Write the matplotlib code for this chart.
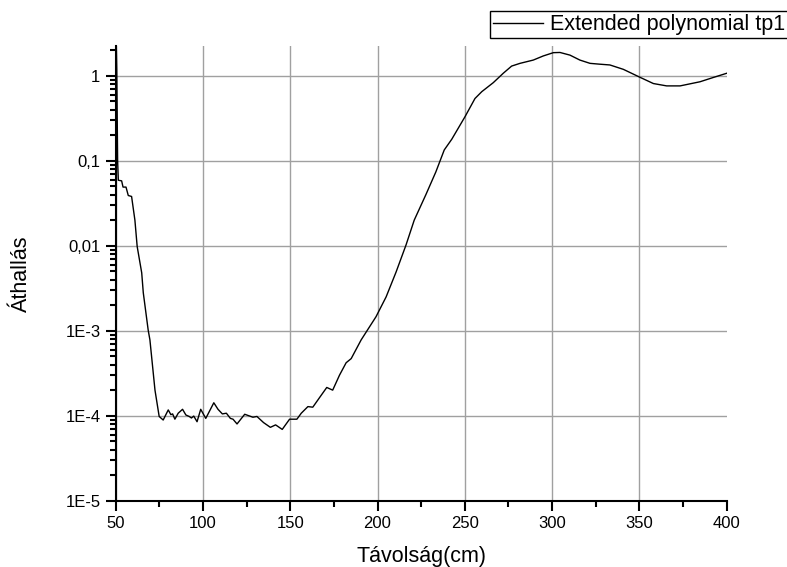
import matplotlib
matplotlib.use("Agg")
import matplotlib.pyplot as plt
from matplotlib.ticker import FixedLocator, FixedFormatter, MultipleLocator, LogLocator, NullFormatter

plt.rcParams['font.family'] = ['Liberation Sans', 'DejaVu Sans']

# Data
distance = [50.0, 50.3, 50.6, 51.1, 51.5, 53.4, 54.2, 55.9, 57.2, 59.1, 61.0, 62.3, 64.9, 65.8,
            68.6, 69.6, 72.5, 74.9, 77.2, 80.1, 81.6, 82.6, 83.9, 85.8, 88.3, 90.2, 92.1,
            93.4, 94.7, 96.6, 98.7, 101.6, 106.2, 108.6, 111.1, 113.4, 115.7, 117.2, 119.5,
            123.9, 128.6, 130.9, 134.7, 138.6, 141.6, 145.4, 149.6, 153.8, 156.3, 160.1,
            162.9, 167.1, 170.9, 174.3, 178.2, 182.0, 184.9, 190.6, 199.1, 204.9, 210.6,
            216.3, 221.0, 227.7, 233.4, 238.2, 242.5, 250.1, 255.8, 259.7, 266.3, 272.0,
            276.8, 281.6, 289.2, 294.9, 300.7, 304.5, 310.2, 315.9, 321.7, 327.0, 333.1,
            340.8, 350.3, 358.0, 365.6, 373.3, 384.7, 392.0, 400.0]
transmission = [3.0, 2.5, 1.2, 0.1, 0.059, 0.058, 0.049, 0.049, 0.039, 0.038, 0.020, 0.0098,
                0.0048, 0.0028, 0.00102, 7.8e-4, 2.0e-4, 9.8e-5, 8.9e-5, 1.17e-4, 1.03e-4,
                1.05e-4, 9.1e-5, 1.07e-4, 1.19e-4, 1.02e-4, 9.8e-5, 9.4e-5, 9.9e-5, 8.5e-5,
                1.19e-4, 9.3e-5, 1.42e-4, 1.19e-4, 1.05e-4, 1.07e-4, 9.3e-5, 9.1e-5, 8.0e-5,
                1.04e-4, 9.6e-5, 9.8e-5, 8.3e-5, 7.3e-5, 7.8e-5, 6.9e-5, 9.1e-5, 9.1e-5,
                1.07e-4, 1.28e-4, 1.26e-4, 1.67e-4, 2.15e-4, 2.0e-4, 3.0e-4, 4.2e-4, 4.7e-4,
                7.8e-4, 1.46e-3, 2.5e-3, 4.9e-3, 0.0102, 0.020, 0.040, 0.074, 0.134, 0.179,
                0.33, 0.54, 0.65, 0.83, 1.07, 1.30, 1.40, 1.53, 1.71, 1.87, 1.88, 1.75, 1.53,
                1.40, 1.37, 1.34, 1.19, 0.96, 0.81, 0.76, 0.76, 0.85, 0.95, 1.07]

x_ticks = [50, 100, 150, 200, 250, 300, 350, 400]
x_tick_labels = ['50', '100', '150', '200', '250', '300', '350', '400']
y_ticks = [1e-5, 1e-4, 1e-3, 1e-2, 1e-1, 1]
y_tick_labels = ['1E-5', '1E-4', '1E-3', '0,01', '0,1', '1']
series_label = 'Extended polynomial tp1'
x_label = 'Távolság(cm)'
y_label = 'Áthallás'

fig = plt.figure(figsize=(7.87, 5.67), dpi=100)
ax = fig.add_axes([115.7/787, 1 - 500.7/567, (726.7 - 115.7)/787, (500.7 - 46)/567])

ax.plot(distance, transmission, color='black', lw=1.0, label=series_label)
ax.set_yscale('log')
ax.set_xlim(50, 400)
ax.set_ylim(1e-5, 2.24)

ax.xaxis.set_major_locator(FixedLocator(x_ticks))
ax.xaxis.set_major_formatter(FixedFormatter(x_tick_labels))
ax.xaxis.set_minor_locator(MultipleLocator(25))
ax.yaxis.set_major_locator(FixedLocator(y_ticks))
ax.yaxis.set_major_formatter(FixedFormatter(y_tick_labels))
ax.yaxis.set_minor_locator(LogLocator(base=10, subs=range(2, 10), numticks=20))
ax.yaxis.set_minor_formatter(NullFormatter())

ax.grid(True, which='major', color='#a0a0a0', lw=1.0)
ax.set_axisbelow(True)
ax.xaxis.get_major_ticks()[-1].gridline.set_visible(False)

for s in ['top', 'right']:
    ax.spines[s].set_visible(False)
for s in ['left', 'bottom']:
    ax.spines[s].set_linewidth(1.5)
    ax.spines[s].set_color('black')

ax.tick_params(which='major', direction='out', length=7, width=1.5, labelsize=12, pad=4)
ax.tick_params(which='minor', direction='out', length=4, width=1.5)

ax.set_xlabel(x_label, fontsize=15.5, labelpad=11)
ax.set_ylabel(y_label, fontsize=15.5, labelpad=24)

leg = fig.legend(loc='upper left', bbox_to_anchor=(490/787, 1 - 11/567), fontsize=15.5,
                 frameon=True, fancybox=False, shadow=False, borderpad=0.15,
                 handlelength=2.3, handletextpad=0.35, borderaxespad=0)
leg.get_frame().set_edgecolor('black')
leg.get_frame().set_linewidth(1.0)
leg.get_frame().set_alpha(1)

fig.savefig('out.png', dpi=100)
